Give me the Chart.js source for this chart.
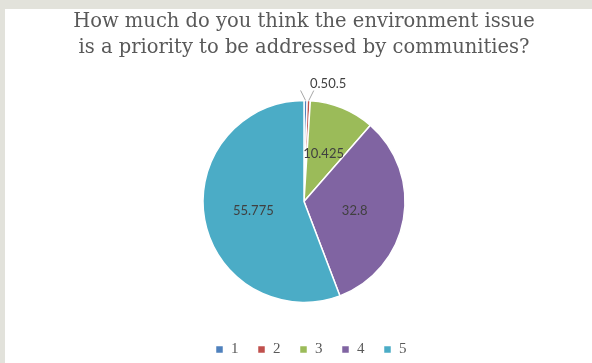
<!DOCTYPE html>
<html>
<head>
<meta charset="utf-8">
<script src="https://cdn.jsdelivr.net/npm/chart.js@4.4.1/dist/chart.umd.min.js"></script>
<style>
  html, body { margin: 0; padding: 0; background: #e2e2db; }
  body { width: 592px; height: 363px; position: relative; overflow: hidden; }
  .panel { position: absolute; left: 5px; top: 9px; width: 587px; height: 354px; background: #fff; }
</style>
</head>
<body>
<div class="panel"><canvas id="pieChart" width="587" height="354"></canvas></div>
<script>
// --- data ---
const titleLines = ["How much do you think the environment issue", "is a priority to be addressed by communities?"];
const categories = ["1", "2", "3", "4", "5"];
const shares = [0.5, 0.5, 10.425, 32.8, 55.775];
const sliceColors = ["#4f81bd", "#c0504d", "#9bbb59", "#8064a2", "#4bacc6"];

// value labels drawn on the slices, small ones get leader lines
const sliceLabelPlugin = {
  id: 'sliceLabels',
  afterDatasetsDraw(chart) {
    const { ctx } = chart;
    const meta = chart.getDatasetMeta(0);
    ctx.save();
    ctx.font = '13px Lato';
    ctx.fillStyle = '#404040';
    ctx.textBaseline = 'middle';
    let cursor = null;
    meta.data.forEach((arc, i) => {
      const { x, y, startAngle, endAngle, outerRadius } = arc.getProps(['x', 'y', 'startAngle', 'endAngle', 'outerRadius'], true);
      const mid = (startAngle + endAngle) / 2;
      const text = String(shares[i]);
      if (shares[i] >= 5) {
        ctx.textAlign = 'center';
        ctx.fillText(text, x + Math.cos(mid) * outerRadius * 0.51, y + Math.sin(mid) * outerRadius * 0.51);
      } else {
        const rx = x + Math.cos(mid) * outerRadius;
        const ry = y + Math.sin(mid) * outerRadius;
        const side = i === 0 ? -1 : 1;
        ctx.strokeStyle = '#a6a6a6';
        ctx.lineWidth = 1;
        ctx.beginPath();
        ctx.moveTo(rx, ry);
        ctx.lineTo(rx + side * 5, ry - 10);
        ctx.stroke();
        if (cursor === null) cursor = x + 6;
        ctx.textAlign = 'left';
        ctx.fillText(text, cursor, y - outerRadius - 17);
        cursor += ctx.measureText(text).width;
      }
    });
    ctx.restore();
  }
};

// legend sits a little right of the pie centre in the original
const legendShift = {
  id: 'legendShift',
  afterLayout(chart) {
    chart.legend.left += 7;
    chart.legend.right += 7;
  }
};

new Chart(document.getElementById('pieChart').getContext('2d'), {
  type: 'pie',
  data: {
    labels: categories,
    datasets: [{
      data: shares,
      backgroundColor: sliceColors,
      borderColor: '#ffffff',
      borderWidth: 1.5,
      radius: 101
    }]
  },
  options: {
    responsive: false,
    animation: false,
    layout: { padding: { left: 11, right: 0, top: 0, bottom: -4 } },
    plugins: {
      title: {
        display: true,
        text: titleLines,
        color: '#595959',
        font: { family: 'DejaVu Serif', size: 19.5, weight: 'normal', lineHeight: 1.33 },
        padding: { top: 0, bottom: 19 }
      },
      legend: {
        position: 'bottom',
        labels: {
          color: '#595959',
          font: { family: 'Liberation Serif', size: 15 },
          boxWidth: 8,
          boxHeight: 8,
          padding: 19
        }
      },
      tooltip: { enabled: false }
    }
  },
  plugins: [sliceLabelPlugin, legendShift]
});
</script>
</body>
</html>
